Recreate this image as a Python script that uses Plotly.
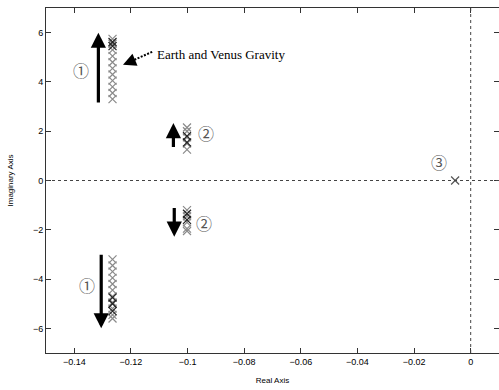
import plotly.graph_objects as go

# Mode 1 (upper / lower), mode 2 (upper / lower), mode 3 poles
mode1_x = -0.1265
mode1_up_gray = [3.3, 3.55, 3.8, 4.05, 4.3, 4.55, 4.8, 5.05, 5.3, 5.55, 5.75]
mode1_up_black = [5.45, 5.62]
mode1_lo_gray = [-3.2, -3.45, -3.7, -3.95, -4.2, -4.45, -4.7, -4.95, -5.2, -5.45, -5.6]
mode1_lo_black = [-4.75, -5.0, -5.3]
mode2_x = -0.1002
mode2_up_gray = [1.25, 1.5, 1.75, 2.0, 2.15]
mode2_up_black = [1.55, 1.8]
mode2_lo_gray = [-1.2, -1.45, -1.7, -1.95, -2.05]
mode2_lo_black = [-1.35, -1.6]
mode3_x = [-0.0055]
mode3_y = [0.0]

# direction arrows: (x, tip_y, tail_y)
arrow_x = [-0.1315, -0.1305, -0.1050, -0.1047]
arrow_tip = [6.0, -6.0, 2.33, -2.28]
arrow_tail = [3.1, -2.95, 1.3, -1.05]

# circled labels
lab_text = ["①", "①", "②", "②", "③"]
lab_x = [-0.1377, -0.1356, -0.0935, -0.0942, -0.0111]
lab_y = [4.5, -4.25, 1.92, -1.72, 0.76]

note_text = "Earth and Venus Gravity"
note_tip = (-0.1228, 4.70)
note_tail = (-0.1125, 5.22)
note_pos = (-0.0882, 5.12)

x_range = [-0.15, 0.01]
y_range = [-7, 7]
x_ticks = [-0.14, -0.12, -0.10, -0.08, -0.06, -0.04, -0.02, 0]
x_ticklabels = ["\u22120.14", "\u22120.12", "\u22120.1", "\u22120.08", "\u22120.06", "\u22120.04", "\u22120.02", "0"]
y_ticks = [-6, -4, -2, 0, 2, 4, 6]

gray = "#8a8a8a"
fig = go.Figure()

def crosses(xv, ys, color, width=1.2):
    fig.add_trace(go.Scatter(
        x=[xv] * len(ys), y=ys, mode="markers", showlegend=False,
        marker=dict(symbol="x-thin", size=8, line=dict(color=color, width=width)),
        hoverinfo="skip"))

crosses(mode1_x, mode1_up_gray, gray)
crosses(mode1_x, mode1_up_black, "#222")
crosses(mode1_x, mode1_lo_gray, gray)
crosses(mode1_x, mode1_lo_black, "#222")
crosses(mode2_x, mode2_up_gray, gray)
crosses(mode2_x, mode2_up_black, "#222")
crosses(mode2_x, mode2_lo_gray, gray)
crosses(mode2_x, mode2_lo_black, "#222")
fig.add_trace(go.Scatter(x=mode3_x, y=mode3_y, mode="markers", showlegend=False,
                         marker=dict(symbol="x-thin", size=8, line=dict(color="#555", width=1.2)),
                         hoverinfo="skip"))

# zero lines
fig.add_shape(type="line", xref="x", yref="y", x0=x_range[0], x1=x_range[1], y0=0, y1=0,
              line=dict(color="#444", width=1, dash="3px,3px"))
fig.add_shape(type="line", xref="x", yref="y", x0=0, x1=0, y0=y_range[0], y1=y_range[1],
              line=dict(color="#444", width=1, dash="3px,3px"))

# direction arrows
for xa, tip, tail in zip(arrow_x, arrow_tip, arrow_tail):
    fig.add_annotation(x=xa, y=tip, ax=xa, ay=tail, xref="x", yref="y", axref="x", ayref="y",
                       text="", showarrow=True, arrowhead=2, arrowsize=0.95, arrowwidth=3.2,
                       arrowcolor="black")

# circled labels
for t, xa, ya in zip(lab_text, lab_x, lab_y):
    fig.add_annotation(x=xa, y=ya, text=t, showarrow=False,
                       font=dict(family="Noto Sans CJK JP", size=16, color="#555"))

# note with dashed arrow
fig.add_shape(type="line", xref="x", yref="y", x0=note_tail[0], y0=note_tail[1],
              x1=note_tip[0] + 0.0025, y1=note_tip[1] + 0.12,
              line=dict(color="black", width=2, dash="2px,1.5px"))
fig.add_annotation(x=note_tip[0], y=note_tip[1], ax=note_tip[0] + 0.003, ay=note_tip[1] + 0.145,
                   xref="x", yref="y", axref="x", ayref="y", text="", showarrow=True,
                   arrowhead=2, arrowsize=1.3, arrowwidth=2, arrowcolor="black")
fig.add_annotation(x=note_pos[0], y=note_pos[1], text=note_text, showarrow=False,
                   font=dict(family="Liberation Serif", size=13, color="black"))

axis_common = dict(showgrid=False, zeroline=False, showline=True, linecolor="#333", linewidth=1,
                   mirror="ticks", ticks="inside", ticklen=5, tickcolor="#333",
                   tickfont=dict(family="Liberation Sans", size=9, color="black"))
fig.update_xaxes(range=x_range, tickvals=x_ticks, ticktext=x_ticklabels,
                 title=dict(text="Real Axis", font=dict(family="Liberation Sans", size=8, color="black"), standoff=11),
                 **axis_common)
fig.update_yaxes(range=y_range, tickvals=y_ticks,
                 title=dict(text="Imaginary Axis", font=dict(family="Liberation Sans", size=8, color="black"), standoff=18),
                 **axis_common)
fig.update_layout(width=499, height=390, margin=dict(l=46, r=0, t=8, b=37),
                  plot_bgcolor="white", paper_bgcolor="white", showlegend=False)
fig.write_html("out.html")
